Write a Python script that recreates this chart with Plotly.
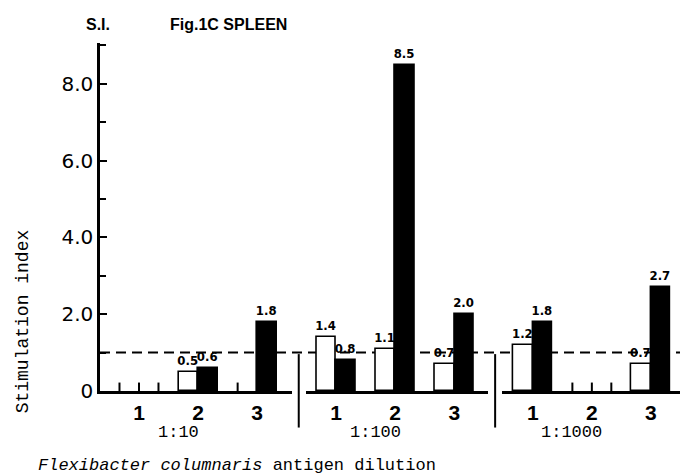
import plotly.graph_objects as go

# ---------------- data ----------------
groups = [1, 2, 3]
group_labels = ["1", "2", "3"]
dilutions = ["1:10", "1:100", "1:1000"]
white_1_10 = [0, 0.5, 0]
black_1_10 = [0, 0.6, 1.8]
white_1_100 = [1.4, 1.1, 0.7]
black_1_100 = [0.8, 8.5, 2.0]
white_1_1000 = [1.2, 0, 0.7]
black_1_1000 = [1.8, 0, 2.7]
reference_si = 1.0
y_ticks = [0, 2, 4, 6, 8]
y_tick_labels = ["0", "2.0", "4.0", "6.0", "8.0"]
y_minor_ticks = [1, 3, 5, 7, 9]

segments = [
    ("x", white_1_10, black_1_10),
    ("x2", white_1_100, black_1_100),
    ("x3", white_1_1000, black_1_1000),
]

# ---------------- style ----------------
BAR_W = 0.33
ZERO_TICK = 0.22
LABEL_FONT = dict(family="Liberation Sans Narrow, DejaVu Sans Condensed, Arial Narrow, sans-serif",
                  size=13, color="black", weight="bold")
MONO = "Liberation Mono, Courier New, monospace"
SANS = "Liberation Sans, Arial, Helvetica, sans-serif"

fig = go.Figure()


def fmt(vals):
    return ["" if v == 0 else f"{v:.1f}" for v in vals]


def nz(vals):
    # zero bars are not drawn as rectangles (shown as baseline ticks instead)
    return [v if v != 0 else None for v in vals]


for xa, white, black in segments:
    fig.add_trace(go.Bar(
        x=groups, y=nz(white), xaxis=xa, yaxis="y", width=BAR_W, offset=-BAR_W,
        marker=dict(color="white", line=dict(color="black", width=1.6)),
        text=fmt(white), textposition="outside", textfont=LABEL_FONT,
        constraintext="none", cliponaxis=False, showlegend=False, hoverinfo="skip"))
    fig.add_trace(go.Bar(
        x=groups, y=nz(black), xaxis=xa, yaxis="y", width=BAR_W, offset=0,
        marker=dict(color="black", line=dict(color="black", width=1.6)),
        text=fmt(black), textposition="outside", textfont=LABEL_FONT,
        constraintext="none", cliponaxis=False, showlegend=False, hoverinfo="skip"))
    # zero-valued bars are shown as small edge ticks on the baseline
    tx, ty = [], []
    for g, w, b in zip(groups, white, black):
        edges = set()
        if w == 0:
            edges.update([round(g - BAR_W, 4), g])
        if b == 0:
            edges.update([g, round(g + BAR_W, 4)])
        if w == 0 and b != 0:
            edges.discard(g)
        for e in sorted(edges):
            tx += [e, e, None]
            ty += [0, ZERO_TICK, None]
    if tx:
        fig.add_trace(go.Scatter(x=tx, y=ty, xaxis=xa, yaxis="y", mode="lines",
                                 line=dict(color="black", width=2),
                                 showlegend=False, hoverinfo="skip", cliponaxis=False))

xcommon = dict(showline=True, linecolor="black", linewidth=2.5, ticks="",
               tickvals=groups, ticktext=group_labels, showgrid=False, zeroline=False,
               tickfont=dict(family=SANS, size=21, color="black", weight="bold"),
               ticklabelstandoff=1, anchor="y", fixedrange=True)

# the page body adds an 8px offset, so the figure is 8px smaller
fig.update_layout(
    width=680, height=468,
    margin=dict(l=92, r=0, t=35, b=85),
    plot_bgcolor="white", paper_bgcolor="white",
    bargap=0,
    xaxis=dict(domain=[0, 0.3265], range=[0.34, 3.59], **xcommon),
    xaxis2=dict(domain=[0.350, 0.660], range=[0.49, 3.57], **xcommon),
    xaxis3=dict(domain=[0.684, 1.0], range=[0.48, 3.63], **xcommon),
    yaxis=dict(range=[0, 9.06], tickvals=y_ticks, ticktext=y_tick_labels,
               ticks="inside", ticklen=7, tickwidth=2, tickcolor="black",
               minor=dict(tickvals=y_minor_ticks, ticks="inside", ticklen=6,
                          tickwidth=2, tickcolor="black"),
               showline=True, linecolor="black", linewidth=2.5, showgrid=False,
               zeroline=False, anchor="x",
               tickfont=dict(family="DejaVu Sans, " + SANS, size=20, color="black"),
               ticklabelstandoff=0, fixedrange=True),
)

# reference line at S.I. = 1
fig.add_shape(type="line", xref="paper", yref="y", x0=0, x1=1,
              y0=reference_si, y1=reference_si, layer="below",
              line=dict(color="black", width=2, dash="10px,6px"))

# separators between dilution panels
for xs in [0.338, 0.672]:
    fig.add_shape(type="line", xref="paper", yref="paper", x0=xs, x1=xs,
                  y0=-0.105, y1=0.106, line=dict(color="black", width=2))

# dilution labels
for xa, lab in zip(["x", "x2", "x3"], dilutions):
    fig.add_annotation(xref=xa, yref="paper", x=groups[1], y=-0.118, xshift=-20,
                       text=lab, showarrow=False, xanchor="center", yanchor="middle",
                       font=dict(family=MONO, size=17, color="black"))

# axis titles
fig.add_annotation(xref="paper", yref="paper", x=0.233, y=-0.213,
                   xanchor="center", yanchor="middle",
                   text="<i>Flexibacter columnaris</i> antigen dilution",
                   showarrow=False, font=dict(family=MONO, size=17, color="black"))
fig.add_annotation(xref="paper", yref="paper", x=-0.131, y=0.20, textangle=-90,
                   xanchor="center", yanchor="middle",
                   text="Stimulation index", showarrow=False,
                   font=dict(family=MONO, size=18, color="black"))

# titles
fig.add_annotation(xref="paper", yref="paper", x=-0.003, y=1.052, text="S.I.",
                   xanchor="center", yanchor="middle",
                   showarrow=False, font=dict(family=SANS, size=16, color="black", weight="bold"))
fig.add_annotation(xref="paper", yref="paper", x=0.1156, y=1.052, xanchor="left",
                   yanchor="middle",
                   text="Fig.1C SPLEEN", showarrow=False,
                   font=dict(family=SANS, size=16, color="black", weight="bold"))

fig.write_html("out.html")
